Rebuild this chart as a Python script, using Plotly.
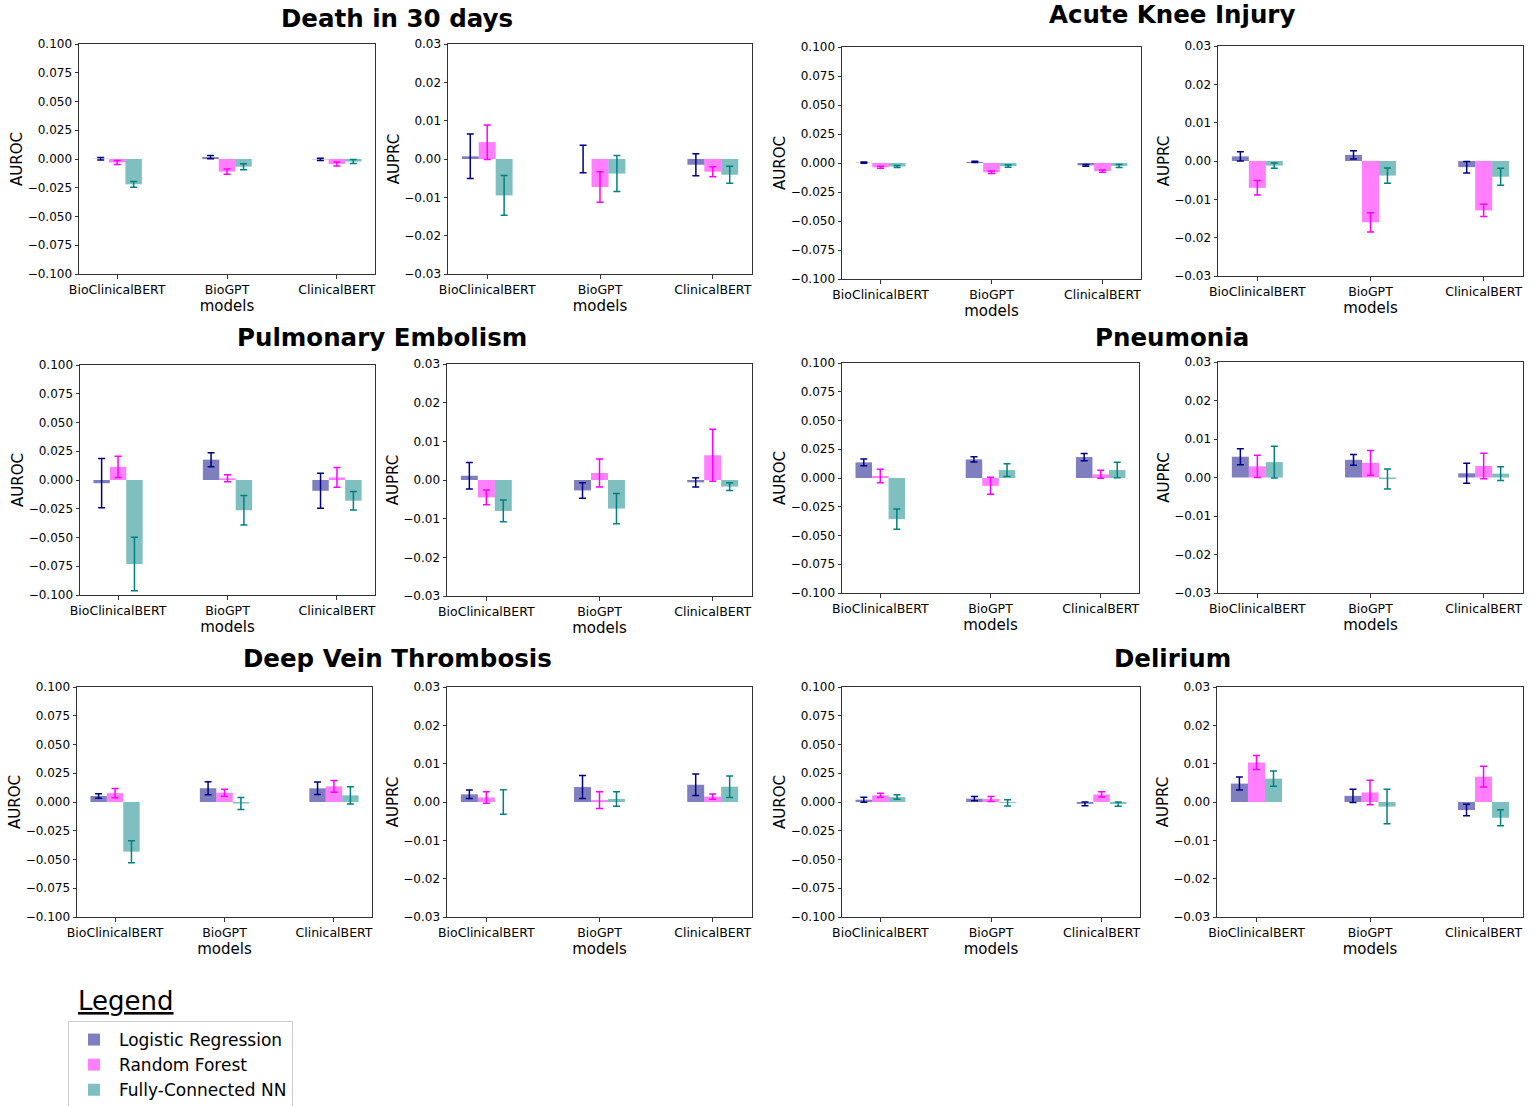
import plotly.graph_objects as go

W, H = 1539, 1106

models = ["BioClinicalBERT", "BioGPT", "ClinicalBERT"]
series_names = ["Logistic Regression", "Random Forest", "Fully-Connected NN"]
task_titles = ["Death in 30 days", "Acute Knee Injury", "Pulmonary Embolism",
               "Pneumonia", "Deep Vein Thrombosis", "Delirium"]

# values per series: [LR, RF, NN], each over models
death_auroc = [[0.0002, 0.0017, -0.0003], [-0.0030, -0.0110, -0.0043], [-0.0220, -0.0067, -0.0022]]
death_auroc_err = [[0.0010, 0.0014, 0.0010], [0.0017, 0.0022, 0.0017], [0.0025, 0.0026, 0.0017]]
death_auprc = [[0.0007, 0.0000, -0.0015], [0.0044, -0.0073, -0.0033], [-0.0095, -0.0038, -0.0041]]
death_auprc_err = [[0.0058, 0.0036, 0.0029], [0.0045, 0.0040, 0.0013], [0.0052, 0.0047, 0.0022]]

aki_auroc = [[0.0003, 0.0010, -0.0020], [-0.0037, -0.0080, -0.0070], [-0.0030, -0.0027, -0.0025]]
aki_auroc_err = [[0.0005, 0.0005, 0.0008], [0.0008, 0.0010, 0.0010], [0.0008, 0.0010, 0.0013]]
aki_auprc = [[0.0012, 0.0016, -0.0016], [-0.0070, -0.0160, -0.0129], [-0.0012, -0.0038, -0.0041]]
aki_auprc_err = [[0.0012, 0.0011, 0.0015], [0.0019, 0.0025, 0.0016], [0.0007, 0.0020, 0.0022]]

pe_auroc = [[-0.0028, 0.0177, -0.0094], [0.0114, 0.0015, 0.0022], [-0.0730, -0.0263, -0.0180]]
pe_auroc_err = [[0.0214, 0.0061, 0.0152], [0.0092, 0.0030, 0.0086], [0.0233, 0.0128, 0.0080]]
pe_auprc = [[0.0011, -0.0027, -0.0006], [-0.0045, 0.0018, 0.0064], [-0.0080, -0.0074, -0.0017]]
pe_auprc_err = [[0.0034, 0.0020, 0.0012], [0.0019, 0.0036, 0.0067], [0.0028, 0.0039, 0.0010]]

pneu_auroc = [[0.0136, 0.0162, 0.0182], [0.0017, -0.0068, 0.0032], [-0.0358, 0.0069, 0.0069]]
pneu_auroc_err = [[0.0030, 0.0023, 0.0032], [0.0058, 0.0074, 0.0035], [0.0088, 0.0055, 0.0067]]
pneu_auprc = [[0.0054, 0.0046, 0.0011], [0.0029, 0.0038, 0.0030], [0.0040, -0.0004, 0.0010]]
pneu_auprc_err = [[0.0021, 0.0014, 0.0026], [0.0029, 0.0032, 0.0033], [0.0041, 0.0026, 0.0018]]

dvt_auroc = [[0.0052, 0.0120, 0.0119], [0.0077, 0.0081, 0.0136], [-0.0432, -0.0013, 0.0058]]
dvt_auroc_err = [[0.0020, 0.0057, 0.0054], [0.0040, 0.0030, 0.0051], [0.0096, 0.0053, 0.0075]]
dvt_auprc = [[0.0020, 0.0039, 0.0045], [0.0012, 0.0005, 0.0014], [0.0000, 0.0008, 0.0040]]
dvt_auprc_err = [[0.0011, 0.0030, 0.0028], [0.0015, 0.0022, 0.0007], [0.0032, 0.0019, 0.0028]]

del_auroc = [[0.0020, 0.0029, -0.0016], [0.0058, 0.0026, 0.0066], [0.0043, -0.0008, -0.0018]]
del_auroc_err = [[0.0022, 0.0019, 0.0016], [0.0017, 0.0022, 0.0023], [0.0019, 0.0027, 0.0018]]
del_auprc = [[0.0048, 0.0016, -0.0021], [0.0103, 0.0025, 0.0066], [0.0061, -0.0012, -0.0041]]
del_auprc_err = [[0.0017, 0.0017, 0.0015], [0.0018, 0.0032, 0.0027], [0.0020, 0.0045, 0.0021]]

auroc_ticks = [-0.100, -0.075, -0.050, -0.025, 0.000, 0.025, 0.050, 0.075, 0.100]
auprc_ticks = [-0.03, -0.02, -0.01, 0.00, 0.01, 0.02, 0.03]

bar_colors = ["rgba(0,0,128,0.5)", "rgba(255,0,255,0.5)", "rgba(0,128,128,0.5)"]
err_colors = ["#000080", "#ff00ff", "#008080"]

# panel pixel boxes in screenshot coordinates (left, right, top, bottom)
panels = [
    (death_auroc, death_auroc_err, "AUROC", (79, 375, 44, 274)),
    (death_auprc, death_auprc_err, "AUPRC", (448, 752, 44, 274)),
    (aki_auroc, aki_auroc_err, "AUROC", (842, 1141, 47, 279)),
    (aki_auprc, aki_auprc_err, "AUPRC", (1218, 1523, 46, 276)),
    (pe_auroc, pe_auroc_err, "AUROC", (80, 375, 365, 595)),
    (pe_auprc, pe_auprc_err, "AUPRC", (447, 752, 364, 596)),
    (pneu_auroc, pneu_auroc_err, "AUROC", (842, 1139, 363, 593)),
    (pneu_auprc, pneu_auprc_err, "AUPRC", (1218, 1523, 362, 593)),
    (dvt_auroc, dvt_auroc_err, "AUROC", (77, 372, 687, 917)),
    (dvt_auprc, dvt_auprc_err, "AUPRC", (447, 752, 687, 917)),
    (del_auroc, del_auroc_err, "AUROC", (842, 1140, 687, 917)),
    (del_auprc, del_auprc_err, "AUPRC", (1217, 1523, 687, 917)),
]
title_pos = [(397, 18), (1172, 15), (382, 337), (1172, 337), (397, 658), (1172, 658)]


def px(x):
    return x / W


def py(y):
    return 1 - y / H


FONT = "DejaVu Sans"
fig = go.Figure()
layout = dict(
    width=W, height=H, margin=dict(l=0, r=0, t=0, b=0, autoexpand=False),
    paper_bgcolor="white", plot_bgcolor="white",
    font=dict(family=FONT, color="black", size=12),
    barmode="group", bargap=0.55, bargroupgap=0.0,
    showlegend=True,
    legend=dict(x=px(68), y=py(1021), xanchor="left", yanchor="top",
                bordercolor="#cccccc", borderwidth=1, bgcolor="white",
                font=dict(family=FONT, size=17), itemwidth=40,
                tracegroupgap=0),
)


def fmt(v, d):
    s = f"{v:.{d}f}"
    if float(s) == 0:
        s = f"{0:.{d}f}"
    return s.replace("-", "\u2212")


for i, (vals, errs, metric, (l, r, t, b)) in enumerate(panels):
    k = i + 1
    xa = "x" if k == 1 else f"x{k}"
    ya = "y" if k == 1 else f"y{k}"
    for s in range(3):
        fig.add_trace(go.Bar(
            x=models, y=vals[s], name=series_names[s],
            marker=dict(color=bar_colors[s], line=dict(width=0)),
            error_y=dict(type="data", array=errs[s], color=err_colors[s],
                         thickness=1.5, width=3.5),
            xaxis=xa, yaxis=ya, legendgroup=series_names[s],
            showlegend=(k == 1), offsetgroup=str(s),
        ))
    if metric == "AUROC":
        ticks, dec, rng = auroc_ticks, 3, [-0.1, 0.1]
    else:
        ticks, dec, rng = auprc_ticks, 2, [-0.03, 0.03]
    axis_common = dict(showline=True, linecolor="#333333", linewidth=1, mirror=True,
                       ticks="outside", ticklen=3.5, tickcolor="#333333",
                       showgrid=False, zeroline=False, automargin=False)
    layout["xaxis" if k == 1 else f"xaxis{k}"] = dict(
        domain=[px(l), px(r)], anchor=ya, type="category",
        range=[-0.3475, 2.3475], tickfont=dict(family=FONT, size=12.5),
        title=dict(text="models", font=dict(family=FONT, size=15), standoff=1),
        **axis_common)
    layout["yaxis" if k == 1 else f"yaxis{k}"] = dict(
        domain=[py(b), py(t)], anchor=xa, range=rng,
        tickfont=dict(family=FONT, size=12),
        tickvals=ticks, ticktext=[fmt(v, dec) for v in ticks],
        title=dict(text=metric, font=dict(family=FONT, size=15), standoff=1),
        **axis_common)

annotations = []
for (txt, (cx, cy)) in zip(task_titles, title_pos):
    annotations.append(dict(text=f"<b>{txt}</b>", x=px(cx), y=py(cy),
                            xref="paper", yref="paper", showarrow=False,
                            xanchor="center", yanchor="middle",
                            font=dict(family=FONT, size=24.5, color="black")))
annotations.append(dict(text="<u>Legend</u>", x=px(76), y=py(1001),
                        xref="paper", yref="paper", showarrow=False,
                        xanchor="left", yanchor="middle",
                        font=dict(family=FONT, size=26, color="black")))
layout["annotations"] = annotations
fig.update_layout(**layout)
fig.write_html("out.html",
               config={"displayModeBar": False},
               post_script="document.body.style.margin='0px';"
                           "document.body.style.overflow='hidden';")
